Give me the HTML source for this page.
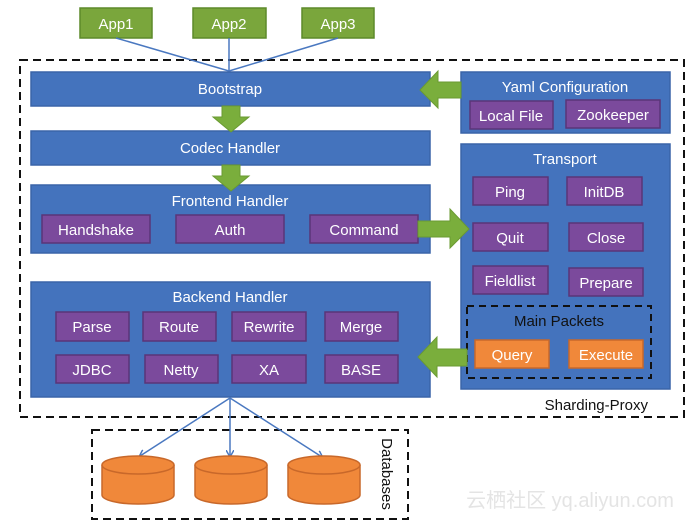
<!DOCTYPE html>
<html><head><meta charset="utf-8"><style>
html,body{margin:0;padding:0;background:#fff;}
svg{display:block;font-family:"Liberation Sans",sans-serif;}
</style></head><body>
<svg width="696" height="530" viewBox="0 0 696 530" xmlns="http://www.w3.org/2000/svg">
<defs>
<marker id="ah" markerWidth="8" markerHeight="8" refX="6" refY="4" orient="auto" markerUnits="userSpaceOnUse"><path d="M0,0 L7,4 L0,8" fill="none" stroke="#4a78c0" stroke-width="1.5"/></marker>
</defs>
<!-- outer dashed -->
<rect x="20" y="60" width="664" height="357" fill="none" stroke="#111" stroke-width="2" stroke-dasharray="8,5"/>
<!-- apps -->
<g fill="#7aa63c" stroke="#5d8a2a" stroke-width="1.5">
<rect x="80" y="8" width="72" height="30"/><rect x="193" y="8" width="73" height="30"/><rect x="302" y="8" width="72" height="30"/>
</g>
<g fill="#fff" font-size="15" text-anchor="middle">
<text x="116" y="29">App1</text><text x="229" y="29">App2</text><text x="338" y="29">App3</text>
</g>
<g stroke="#4a78c0" stroke-width="1.5">
<line x1="116" y1="38" x2="229" y2="71"/><line x1="229" y1="38" x2="229" y2="71"/><line x1="338" y1="38" x2="229" y2="71"/>
</g>
<!-- blue boxes -->
<g fill="#4473bd" stroke="#3a64a8" stroke-width="1.5">
<rect x="31" y="72" width="399" height="34"/>
<rect x="31" y="131" width="399" height="34"/>
<rect x="31" y="185" width="399" height="68"/>
<rect x="31" y="282" width="399" height="115"/>
<rect x="461" y="72" width="209" height="61"/>
<rect x="461" y="144" width="209" height="245"/>
</g>
<g fill="#fff" font-size="15" text-anchor="middle">
<text x="230" y="94">Bootstrap</text>
<text x="230" y="153">Codec Handler</text>
<text x="230" y="206">Frontend Handler</text>
<text x="230" y="302">Backend Handler</text>
<text x="565" y="92">Yaml Configuration</text>
<text x="565" y="164">Transport</text>
</g>
<!-- purple boxes -->
<g fill="#7b4a9c" stroke="#5a3578" stroke-width="1.5">
<rect x="42" y="215" width="108" height="28"/><rect x="176" y="215" width="108" height="28"/><rect x="310" y="215" width="108" height="28"/>
<rect x="56" y="312" width="73" height="29"/><rect x="143" y="312" width="73" height="29"/><rect x="232" y="312" width="74" height="29"/><rect x="325" y="312" width="73" height="29"/>
<rect x="56" y="355" width="73" height="28"/><rect x="145" y="355" width="73" height="28"/><rect x="232" y="355" width="74" height="28"/><rect x="325" y="355" width="73" height="28"/>
<rect x="470" y="101" width="83" height="28"/><rect x="566" y="100" width="94" height="28"/>
<rect x="473" y="177" width="75" height="28"/><rect x="567" y="177" width="75" height="28"/>
<rect x="473" y="223" width="75" height="28"/><rect x="569" y="223" width="74" height="28"/>
<rect x="473" y="266" width="75" height="28"/><rect x="569" y="268" width="74" height="28"/>
</g>
<g fill="#fff" font-size="15" text-anchor="middle">
<text x="96" y="235">Handshake</text><text x="230" y="235">Auth</text><text x="364" y="235">Command</text>
<text x="92" y="332">Parse</text><text x="179" y="332">Route</text><text x="269" y="332">Rewrite</text><text x="361" y="332">Merge</text>
<text x="92" y="375">JDBC</text><text x="181" y="375">Netty</text><text x="269" y="375">XA</text><text x="361" y="375">BASE</text>
<text x="511" y="121">Local File</text><text x="613" y="120">Zookeeper</text>
<text x="510" y="197">Ping</text><text x="604" y="197">InitDB</text>
<text x="510" y="243">Quit</text><text x="606" y="243">Close</text>
<text x="510" y="286">Fieldlist</text><text x="606" y="288">Prepare</text>
</g>
<!-- main packets -->
<rect x="467" y="306" width="184" height="72" fill="none" stroke="#111" stroke-width="2" stroke-dasharray="7,5"/>
<text x="559" y="326" font-size="15" text-anchor="middle" fill="#111">Main Packets</text>
<g fill="#f0883a" stroke="#c8682a" stroke-width="1.5">
<rect x="475" y="340" width="74" height="28"/><rect x="569" y="340" width="74" height="28"/>
</g>
<g fill="#fff" font-size="15" text-anchor="middle"><text x="512" y="360">Query</text><text x="606" y="360">Execute</text></g>
<text x="648" y="410" font-size="15" text-anchor="end" fill="#111">Sharding-Proxy</text>
<!-- green arrows -->
<g fill="#7aae3c" stroke="#6a9a32" stroke-width="1">
<path d="M222,106 H240 V117 H249 L231,132 L213,117 H222 Z"/>
<path d="M222,165 H240 V176 H249 L231,191 L213,176 H222 Z"/>
<path d="M461,82 H438 V71 L420,90 L438,108 V98 H461 Z"/>
<path d="M418,221 H450 V209 L469,229 L450,248 V237 H418 Z"/>
<path d="M467,349 H437 V337 L418,357 L437,377 V366 H467 Z"/>
</g>
<!-- databases -->
<rect x="92" y="430" width="316" height="89" fill="none" stroke="#111" stroke-width="2" stroke-dasharray="8,5"/>
<text transform="translate(382,474) rotate(90)" font-size="15" text-anchor="middle" fill="#111">Databases</text>
<g stroke="#4a78c0" stroke-width="1.5" marker-end="url(#ah)">
<line x1="230" y1="398" x2="140" y2="456"/><line x1="230" y1="398" x2="230" y2="456"/><line x1="230" y1="398" x2="322" y2="457"/>
</g>
<g fill="#f0883a" stroke="#c8682a" stroke-width="1.5">
<path d="M102,465 V495 A36,9 0 0 0 174,495 V465"/><ellipse cx="138" cy="465" rx="36" ry="9"/>
<path d="M195,465 V495 A36,9 0 0 0 267,495 V465"/><ellipse cx="231" cy="465" rx="36" ry="9"/>
<path d="M288,465 V495 A36,9 0 0 0 360,495 V465"/><ellipse cx="324" cy="465" rx="36" ry="9"/>
</g>
<text x="570" y="507" font-size="20" fill="#e4e4e4" text-anchor="middle" font-family="'Liberation Sans','Noto Sans CJK SC',sans-serif">云栖社区 yq.aliyun.com</text>
</svg>
</body></html>
